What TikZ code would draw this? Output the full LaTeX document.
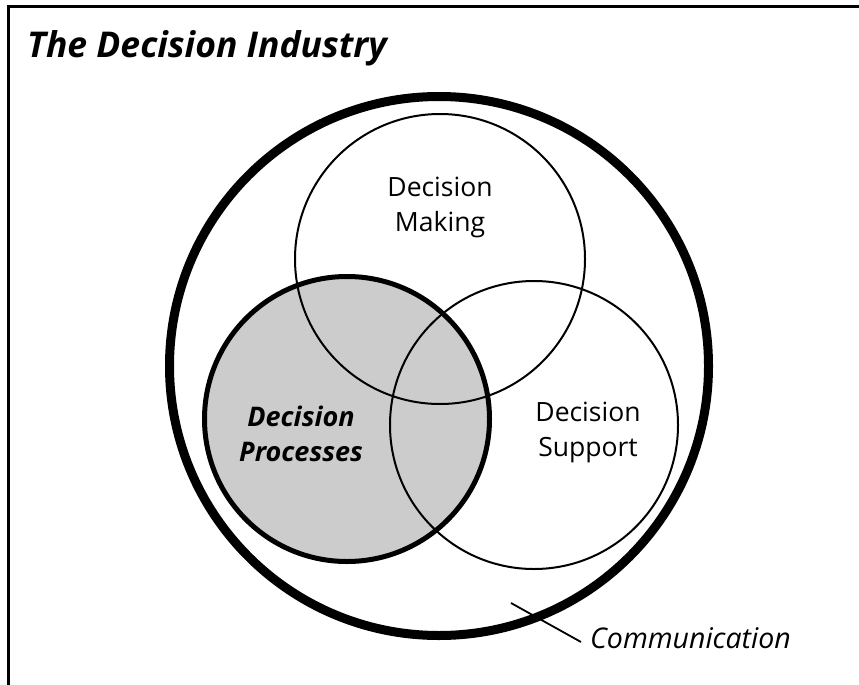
\documentclass[tikz,border=0pt]{standalone}
\usepackage{fontspec}
\setmainfont{Open Sans}
\definecolor{fillgray}{HTML}{CCCCCC}
\tikzset{
  ring/.style={circle, draw, inner sep=0pt, minimum size=#1},
  lbl/.style={align=center, font=\fontsize{26.5}{35}\selectfont},
}
\begin{document}
\begin{tikzpicture}[x=1pt,y=-1pt]
\useasboundingbox (0,0) rectangle (859,685);
% frame
\draw[line width=3pt] (8,720) -- (8,6.5) -- (870,6.5);
\node[anchor=base west, font=\fontsize{35.5}{42}\selectfont\bfseries\itshape, inner sep=0pt] (title) at (27,58) {The Decision Industry};
% circles
\node[ring=285pt, fill=fillgray, draw=none] (procfill) at (347,419) {};
\node[ring=290pt, line width=2pt] (making) at (440,259) {};
\node[ring=288pt, line width=2pt] (support) at (534,425) {};
\node[ring=285pt, line width=5pt] (proc) at (347,419) {};
\node[ring=539pt, line width=9pt] (comm) at (439,366) {};
% labels
\node[lbl] (tmaking) at (440,207) {Decision\\Making};
\node[lbl] (tsupport) at (588,432) {Decision\\Support};
\node[lbl, font=\fontsize{27}{35}\selectfont\bfseries\itshape] (tproc) at (301,434) {Decision\\Processes};
\node[anchor=base west, font=\fontsize{28.5}{34}\selectfont\itshape, inner sep=0pt] (tcomm) at (590,648) {Communication};
\coordinate (lead) at (511,603);
\draw[line width=1.8pt] (lead) -- (581,642);
\end{tikzpicture}
\end{document}
